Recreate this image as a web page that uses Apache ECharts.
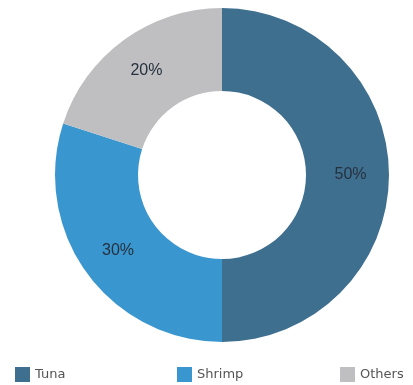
<!DOCTYPE html>
<html>
<head>
<meta charset="utf-8">
<script src="https://cdn.jsdelivr.net/npm/echarts@6/dist/echarts.min.js"></script>
<style>html,body{margin:0;padding:0;background:#fff}#c{width:413px;height:385px}</style>
</head>
<body>
<div id="c"></div>
<script>
var categories = ['Tuna', 'Shrimp', 'Others'];
var values = [50, 30, 20];
var colors = ['#3f6f8f', '#3a96cf', '#bfbfc1'];

var chart = echarts.init(document.getElementById('c'), null, {renderer: 'canvas'});
var legendLefts = [15, 177, 340];
var legends = categories.map(function (name, i) {
  return {
    data: [name],
    left: legendLefts[i],
    top: 367,
    padding: 0,
    orient: 'horizontal',
    itemWidth: 15,
    itemHeight: 15,
    itemGap: 5,
    icon: 'rect',
    selectedMode: false,
    textStyle: {color: '#555', fontSize: 13, fontFamily: 'DejaVu Sans'}
  };
});
chart.setOption({
  animation: false,
  color: colors,
  legend: legends,
  series: [{
    type: 'pie',
    center: [222, 175],
    radius: [84, 167],
    startAngle: 90,
    clockwise: true,
    avoidLabelOverlap: false,
    label: {
      show: true,
      position: 'inside',
      formatter: '{c}%',
      color: '#26313f',
      fontSize: 16,
      fontFamily: 'Liberation Sans'
    },
    labelLine: {show: false},
    itemStyle: {borderWidth: 0},
    emphasis: {disabled: true},
    data: categories.map(function (n, i) { return {name: n, value: values[i]}; })
  }]
});
</script>
</body>
</html>
